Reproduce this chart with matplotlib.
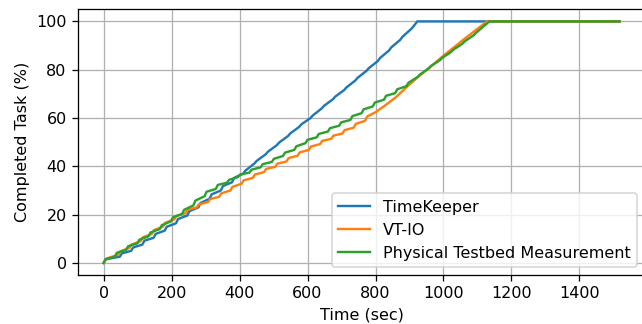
import matplotlib
matplotlib.use("Agg")
import matplotlib.pyplot as plt

# TimeKeeper
tk_t = [0, 6, 48, 54, 81, 87, 114, 120, 147, 153, 180, 186, 213, 219, 246, 252,
        279, 285, 312, 318, 345, 351, 378, 384, 411, 417, 444, 450, 477, 483, 510, 516,
        543, 549, 576, 582, 609, 615, 642, 648, 675, 681, 708, 714, 741, 747, 774, 780,
        807, 813, 840, 846, 873, 879, 906, 912, 923, 1518]
tk_v = [0, 1.5, 2.6, 4.0, 5.0, 6.4, 7.6, 9.2, 10.4, 12.0, 13.4, 15.0, 16.4, 18.2,
        19.6, 21.4, 23.0, 24.8, 26.6, 28.4, 30.0, 31.8, 33.4, 35.2, 37.0, 38.2, 41.2, 42.2,
        45.0, 46.0, 48.8, 49.8, 52.6, 53.6, 56.4, 57.4, 60.0, 61.0, 64.0, 65.0, 67.8, 68.8,
        71.6, 72.6, 75.6, 76.6, 79.6, 80.6, 83.6, 84.8, 88.0, 89.2, 92.4, 93.6, 97.0, 98.0,
        100, 100]

# VT-IO
vt_t = [0, 8, 43, 49, 76, 82, 109, 115, 142, 148, 175, 181, 208, 214, 241, 247,
        274, 280, 307, 313, 340, 346, 373, 379, 406, 412, 439, 445, 472, 478, 505, 511,
        538, 544, 571, 577, 604, 610, 637, 643, 670, 676, 703, 709, 736, 742, 769, 775,
        800, 830, 860, 890, 925, 960, 993, 1030, 1060, 1095, 1128, 1518]
vt_v = [0, 1.8, 3.4, 4.8, 6.2, 7.6, 9.0, 10.6, 12.0, 13.6, 15.0, 16.6, 18.0, 19.4,
        20.6, 22.0, 23.0, 24.2, 25.2, 26.4, 27.4, 28.8, 30.0, 31.5, 32.8, 34.2, 35.2, 36.6,
        37.6, 38.9, 39.8, 41.1, 42.0, 43.4, 44.4, 45.8, 46.8, 48.2, 49.2, 50.5, 51.4, 52.7,
        53.6, 55.0, 56.0, 57.6, 58.8, 60.6, 62.4, 65.4, 68.6, 72.6, 77.0, 81.0, 85.0, 89.2,
        92.6, 96.4, 100, 100]

# Physical Testbed Measurement
pt_t = [0, 6, 33, 39, 66, 72, 99, 105, 132, 138, 165, 171, 198, 204, 231, 237,
        264, 270, 297, 303, 330, 336, 363, 369, 396, 402, 429, 435, 462, 468, 495, 501,
        528, 534, 561, 567, 594, 600, 627, 633, 660, 666, 693, 699, 726, 732, 759, 765,
        792, 798, 825, 831, 858, 864, 891, 897, 924, 930, 957, 963, 990, 996, 1023, 1029,
        1056, 1062, 1089, 1095, 1135, 1518]
pt_v = [0, 1.5, 2.6, 4.2, 5.4, 6.9, 8.1, 9.6, 11.0, 12.6, 14.0, 15.6, 17.2, 18.9,
        20.3, 22.0, 23.8, 25.8, 27.6, 29.5, 30.6, 32.3, 33.2, 34.4, 35.6, 36.6, 37.4, 38.6,
        39.6, 40.9, 41.8, 43.1, 44.3, 45.7, 46.8, 48.3, 49.6, 51.0, 52.0, 53.4, 54.4, 55.8,
        56.8, 58.2, 59.2, 60.8, 62.0, 63.6, 64.8, 66.4, 67.6, 69.2, 70.3, 71.9, 73.2, 74.6,
        77.0, 77.9, 80.6, 81.5, 84.0, 84.9, 87.4, 88.3, 90.8, 91.7, 94.3, 95.2, 100, 100]

labels = ["TimeKeeper", "VT-IO", "Physical Testbed Measurement"]
xticks = [0, 200, 400, 600, 800, 1000, 1200, 1400]
yticks = [0, 20, 40, 60, 80, 100]

DPI = 115
fig = plt.figure(figsize=(642 / DPI, 324 / DPI), dpi=DPI)
ax = fig.add_axes([0.1212, 0.1512, 0.884, 0.820])
ax.plot(tk_t, tk_v, label=labels[0])
ax.plot(vt_t, vt_v, label=labels[1])
ax.plot(pt_t, pt_v, label=labels[2])
ax.set_xticks(xticks)
ax.set_yticks(yticks)
ax.grid(True)
ax.set_xlabel("Time (sec)")
ax.set_ylabel("Completed Task (%)")
ax.legend(loc="lower right")
fig.savefig("out.png", dpi=DPI)
